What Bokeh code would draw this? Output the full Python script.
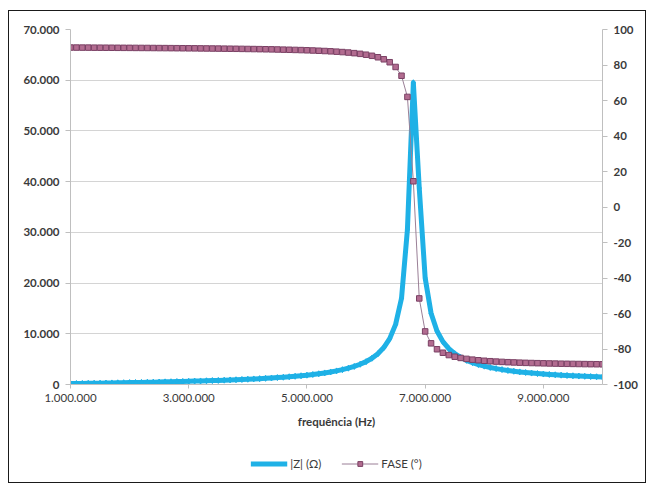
from bokeh.plotting import figure
from bokeh.layouts import column
from bokeh.models import LinearAxis, Range1d, FixedTicker, Legend, LegendItem, ColumnDataSource
from bokeh.embed import file_html
from bokeh.resources import INLINE

# ---- data ----
freq_mhz = [
    1.0, 1.1, 1.2, 1.3, 1.4, 1.5, 1.6, 1.7, 1.8, 1.9,
    2.0, 2.1, 2.2, 2.3, 2.4, 2.5, 2.6, 2.7, 2.8, 2.9,
    3.0, 3.1, 3.2, 3.3, 3.4, 3.5, 3.6, 3.7, 3.8, 3.9,
    4.0, 4.1, 4.2, 4.3, 4.4, 4.5, 4.6, 4.7, 4.8, 4.9,
    5.0, 5.1, 5.2, 5.3, 5.4, 5.5, 5.6, 5.7, 5.8, 5.9,
    6.0, 6.1, 6.2, 6.3, 6.4, 6.5, 6.6, 6.7, 6.8, 6.9,
    7.0, 7.1, 7.2, 7.3, 7.4, 7.5, 7.6, 7.7, 7.8, 7.9,
    8.0, 8.1, 8.2, 8.3, 8.4, 8.5, 8.6, 8.7, 8.8, 8.9,
    9.0, 9.1, 9.2, 9.3, 9.4, 9.5, 9.6, 9.7, 9.8, 9.9,
    10.0,
]
z_ohm = [
    174, 192, 211, 230, 249, 269, 289, 309, 330, 351,
    373, 395, 419, 442, 467, 492, 519, 546, 574, 603,
    634, 666, 699, 734, 771, 810, 851, 894, 939, 987,
    1039, 1094, 1153, 1216, 1284, 1358, 1438, 1525, 1620, 1725,
    1841, 1971, 2116, 2279, 2465, 2679, 2926, 3218, 3564, 3988,
    4510, 5178, 6056, 7276, 9043, 11856, 17006, 30574, 59500, 38737,
    20998, 14052, 10563, 8460, 7066, 6075, 5333, 4762, 4306, 3932,
    3621, 3358, 3132, 2937, 2766, 2615, 2481, 2362, 2254, 2156,
    2067, 1986, 1912, 1843, 1780, 1721, 1667, 1616, 1568, 1524,
    1482,
]
phase_deg = [
    89.84, 89.82, 89.80, 89.79, 89.77, 89.75, 89.73, 89.71, 89.69, 89.67,
    89.65, 89.63, 89.61, 89.59, 89.57, 89.54, 89.52, 89.49, 89.47, 89.44,
    89.41, 89.38, 89.35, 89.32, 89.28, 89.25, 89.21, 89.17, 89.13, 89.08,
    89.03, 88.98, 88.93, 88.87, 88.81, 88.74, 88.66, 88.58, 88.49, 88.40,
    88.29, 88.17, 88.03, 87.88, 87.71, 87.51, 87.28, 87.01, 86.68, 86.29,
    85.80, 85.18, 84.36, 83.22, 81.56, 78.89, 73.95, 62.02, 14.50, -51.50,
    -70.09, -76.81, -80.14, -82.11, -83.41, -84.34, -85.03, -85.57, -85.99, -86.34,
    -86.63, -86.88, -87.09, -87.27, -87.43, -87.57, -87.69, -87.80, -87.90, -87.99,
    -88.08, -88.15, -88.22, -88.29, -88.34, -88.40, -88.45, -88.50, -88.54, -88.58,
    -88.62,
]

x_ticks = [1000000, 3000000, 5000000, 7000000, 9000000]
x_tick_labels = ["1.000.000", "3.000.000", "5.000.000", "7.000.000", "9.000.000"]
y_ticks = [0, 10000, 20000, 30000, 40000, 50000, 60000, 70000]
y_tick_labels = ["0", "10.000", "20.000", "30.000", "40.000", "50.000", "60.000", "70.000"]
y2_ticks = [-100, -80, -60, -40, -20, 0, 20, 40, 60, 80, 100]
y2_tick_labels = ["-100", "-80", "-60", "-40", "-20", "0", "20", "40", "60", "80", "100"]

series_names = ["|Z| (\u03a9)", "FASE (\u00b0)"]
x_title = "frequ\u00eancia (Hz)"

# ---- styling ----
FONT = "Lato"
BLUE = "#1fb1e6"
MAUVE_LINE = "#9a7f96"
MAUVE_FILL = "#b26c90"
MAUVE_EDGE = "#7a4064"
AXIS_GRAY = "#bfbfbf"
TXT = "#3a3a3a"

src = ColumnDataSource(dict(
    f=[v * 1e6 for v in freq_mhz],
    z=z_ohm,
    ph=phase_deg,
))

p = figure(frame_width=532, frame_height=355, output_backend="svg",
           toolbar_location=None,
           x_range=Range1d(1000000, 10000000), y_range=Range1d(0, 70000),
           min_border_left=61, min_border_right=43, min_border_top=18,
           min_border_bottom=60)
p.extra_y_ranges = {"phase": Range1d(-100, 100)}
p.outline_line_color = None
p.background_fill_color = "white"
p.border_fill_color = "white"

# grids
p.xgrid.visible = False
p.ygrid.grid_line_color = "#d4d4d4"
p.ygrid.grid_line_width = 1
p.ygrid.ticker = FixedTicker(ticks=y_ticks)

# x axis
xa = p.xaxis[0]
xa.ticker = FixedTicker(ticks=x_ticks)
xa.major_label_overrides = {t: l for t, l in zip(x_ticks, x_tick_labels)}
xa.axis_line_color = AXIS_GRAY
xa.major_tick_line_color = AXIS_GRAY
xa.major_tick_out = 4
xa.major_tick_in = 0
xa.minor_tick_line_color = None
xa.major_label_text_font = FONT
xa.major_label_text_font_size = "11.5px"
xa.major_label_text_color = TXT
xa.major_label_standoff = 5
xa.axis_label = x_title
xa.axis_label_text_font = FONT
xa.axis_label_text_font_style = "bold"
xa.axis_label_text_font_size = "11.5px"
xa.axis_label_text_color = TXT
xa.axis_label_standoff = 10

# left axis
ya = p.yaxis[0]
ya.ticker = FixedTicker(ticks=y_ticks)
ya.major_label_overrides = {t: l for t, l in zip(y_ticks, y_tick_labels)}
ya.axis_line_color = AXIS_GRAY
ya.major_tick_line_color = AXIS_GRAY
ya.major_tick_out = 5
ya.major_tick_in = 0
ya.minor_tick_line_color = None
ya.major_label_text_font = FONT
ya.major_label_text_font_style = "bold"
ya.major_label_text_font_size = "11.5px"
ya.major_label_text_color = TXT
ya.major_label_standoff = 6

# right axis
ra = LinearAxis(y_range_name="phase", ticker=FixedTicker(ticks=y2_ticks))
ra.major_label_overrides = {t: l for t, l in zip(y2_ticks, y2_tick_labels)}
ra.axis_line_color = AXIS_GRAY
ra.major_tick_line_color = AXIS_GRAY
ra.major_tick_out = 5
ra.major_tick_in = 0
ra.minor_tick_line_color = None
ra.major_label_text_font = FONT
ra.major_label_text_font_style = "bold"
ra.major_label_text_font_size = "11.5px"
ra.major_label_text_color = TXT
ra.major_label_standoff = 6
p.add_layout(ra, "right")

# series
z_line = p.line("f", "z", source=src, line_color=BLUE, line_width=5,
                line_join="round", line_cap="round")
z_marks = p.scatter("f", "z", source=src, marker="diamond", size=6,
                    fill_color=BLUE, line_color=BLUE)
ph_line = p.line("f", "ph", source=src, y_range_name="phase",
                 line_color=MAUVE_LINE, line_width=1)
ph_marks = p.scatter("f", "ph", source=src, y_range_name="phase",
                     marker="square", size=5.5, fill_color=MAUVE_FILL,
                     line_color=MAUVE_EDGE, line_width=1)

# ---- legend strip below the chart (same data, drawn outside its view) ----
lg = figure(width=636, height=38, output_backend="svg", toolbar_location=None,
            x_range=Range1d(0, 1), y_range=Range1d(0, 1),
            x_axis_location=None, y_axis_location=None, min_border=0)
lg.outline_line_color = None
lg.grid.visible = False
lg.border_fill_color = "white"
lg.background_fill_color = "white"
lz_line = lg.line("f", "z", source=src, line_color=BLUE, line_width=5)
lp_line = lg.line("f", "ph", source=src, line_color=MAUVE_LINE, line_width=1)
lp_marks = lg.scatter("f", "ph", source=src, marker="square", size=5.5,
                      fill_color=MAUVE_FILL, line_color=MAUVE_EDGE, line_width=1)

legend = Legend(items=[
    LegendItem(label=series_names[0], renderers=[lz_line]),
    LegendItem(label=series_names[1], renderers=[lp_line, lp_marks]),
], orientation="horizontal", location="center")
legend.border_line_color = None
legend.background_fill_alpha = 0
legend.label_text_font = FONT
legend.label_text_font_size = "11.5px"
legend.label_text_color = TXT
legend.glyph_width = 37
legend.glyph_height = 12
legend.spacing = 20
legend.label_standoff = 3
legend.margin = 0
legend.padding = 4
lg.add_layout(legend, "center")

layout = column(p, lg, spacing=0)
layout.styles = {"margin-left": "8px", "margin-top": "10px",
                 "border": "1px solid #1a1a1a"}

open("out.html", "w").write(file_html(layout, INLINE))
